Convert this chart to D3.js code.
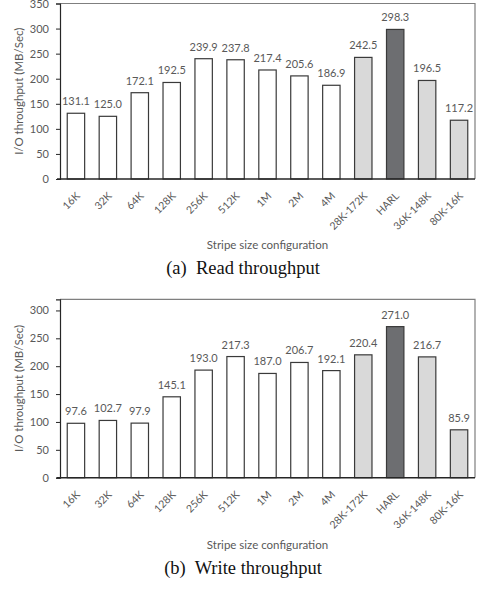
<!DOCTYPE html>
<html>
<head>
<meta charset="utf-8">
<script src="https://cdn.jsdelivr.net/npm/d3@7/dist/d3.min.js"></script>
<style>
  html, body { margin: 0; padding: 0; background: #fff; }
  svg { display: block; }
</style>
</head>
<body>
<svg id="chart" width="477" height="592"></svg>
<script>
const categories = ["16K","32K","64K","128K","256K","512K","1M","2M","4M","28K-172K","HARL","36K-148K","80K-16K"];
const readValues  = [131.1,125.0,172.1,192.5,239.9,237.8,217.4,205.6,186.9,242.5,298.3,196.5,117.2];
const writeValues = [97.6,102.7,97.9,145.1,193.0,217.3,187.0,206.7,192.1,220.4,271.0,216.7,85.9];
const barKinds    = ["plain","plain","plain","plain","plain","plain","plain","plain","plain","light","dark","light","light"];
const readTicks   = [0,50,100,150,200,250,300,350];
const writeTicks  = [0,50,100,150,200,250,300];
const yTitle = "I/O throughput (MB/Sec)";
const xTitle = "Stripe size configuration";
const captions = ["(a)  Read throughput", "(b)  Write throughput"];

const fillFor = {plain: "#ffffff", light: "#d9d9d9", dark: "#6d6e71"};
const textColor = "#595959";
const font = "Lato, 'Open Sans', sans-serif";

const svg = d3.select("#chart");

function panel(values, ticks, yMax, top, bottom, yOff, caption) {
  const left = 60, right = 475;
  const x = d3.scaleBand().domain(categories).range([left, right]).paddingInner(0.455).paddingOuter(0.227);
  const y = d3.scaleLinear().domain([0, yMax]).range([bottom, top]);
  const g = svg.append("g");

  // plot border (top & right)
  g.append("path")
    .attr("d", `M${left},${top}H${right}V${bottom}`)
    .attr("fill", "none").attr("stroke", "#7f7f7f").attr("stroke-width", 1.2);

  // y axis
  const yAxis = g.append("g").attr("transform", `translate(${left},0)`)
    .call(d3.axisLeft(y).tickValues(ticks).tickSize(4).tickPadding(7).tickFormat(d3.format("d")));
  yAxis.select(".domain").attr("stroke", "#262626").attr("stroke-width", 1.2);
  yAxis.selectAll(".tick line").attr("stroke", "#262626");
  yAxis.selectAll("text").attr("fill", textColor).style("font-family", font).style("font-size", "11px");

  // bars
  g.selectAll("rect.bar").data(values).enter().append("rect")
    .attr("class", "bar")
    .attr("x", (d, i) => x(categories[i]))
    .attr("y", d => y(d))
    .attr("width", x.bandwidth())
    .attr("height", d => y(0) - y(d))
    .attr("fill", (d, i) => fillFor[barKinds[i]])
    .attr("stroke", "#3a3a3a").attr("stroke-width", 1.2);

  // value labels
  g.selectAll("text.val").data(values).enter().append("text")
    .attr("class", "val")
    .attr("x", (d, i) => x(categories[i]) + x.bandwidth() / 2)
    .attr("y", d => y(d) - 8)
    .attr("text-anchor", "middle")
    .attr("fill", textColor)
    .style("font-family", font).style("font-size", "11px")
    .text(d => d.toFixed(1));

  // x axis baseline
  const xAxis = g.append("g").attr("transform", `translate(0,${bottom})`)
    .call(d3.axisBottom(x).tickSize(0).tickPadding(0));
  xAxis.select(".domain").attr("d", `M${left - 3},0H${right}`).attr("stroke", "#262626").attr("stroke-width", 1.5);
  xAxis.selectAll(".tick text")
    .attr("text-anchor", "end")
    .attr("fill", textColor)
    .style("font-family", font).style("font-size", "10.5px")
    .attr("transform", "translate(2,15) rotate(-45)")
    .attr("dy", "0.35em").attr("y", 0).attr("x", 0);

  // axis titles
  g.append("text")
    .attr("transform", `translate(${19},${(top + bottom) / 2}) rotate(-90)`)
    .attr("text-anchor", "middle").attr("dy", "0.35em")
    .attr("fill", textColor).style("font-family", font).style("font-size", "11.5px")
    .text(yTitle);
  g.append("text")
    .attr("x", (left + right) / 2).attr("y", yOff + 66)
    .attr("text-anchor", "middle").attr("dy", "0.35em")
    .attr("fill", textColor).style("font-family", font).style("font-size", "11.5px")
    .text(xTitle);
  g.append("text")
    .attr("x", 243).attr("y", yOff + 95)
    .attr("text-anchor", "middle")
    .attr("fill", "#111").style("font-family", "'Liberation Serif', 'Times New Roman', serif").style("font-size", "18.5px")
    .style("white-space", "pre").attr("xml:space", "preserve")
    .text(caption);
}

panel(readValues, readTicks, 350, 3.5, 179, 179, captions[0]);
panel(writeValues, writeTicks, 320, 299.3, 477.7, 479, captions[1]);
</script>
</body>
</html>
